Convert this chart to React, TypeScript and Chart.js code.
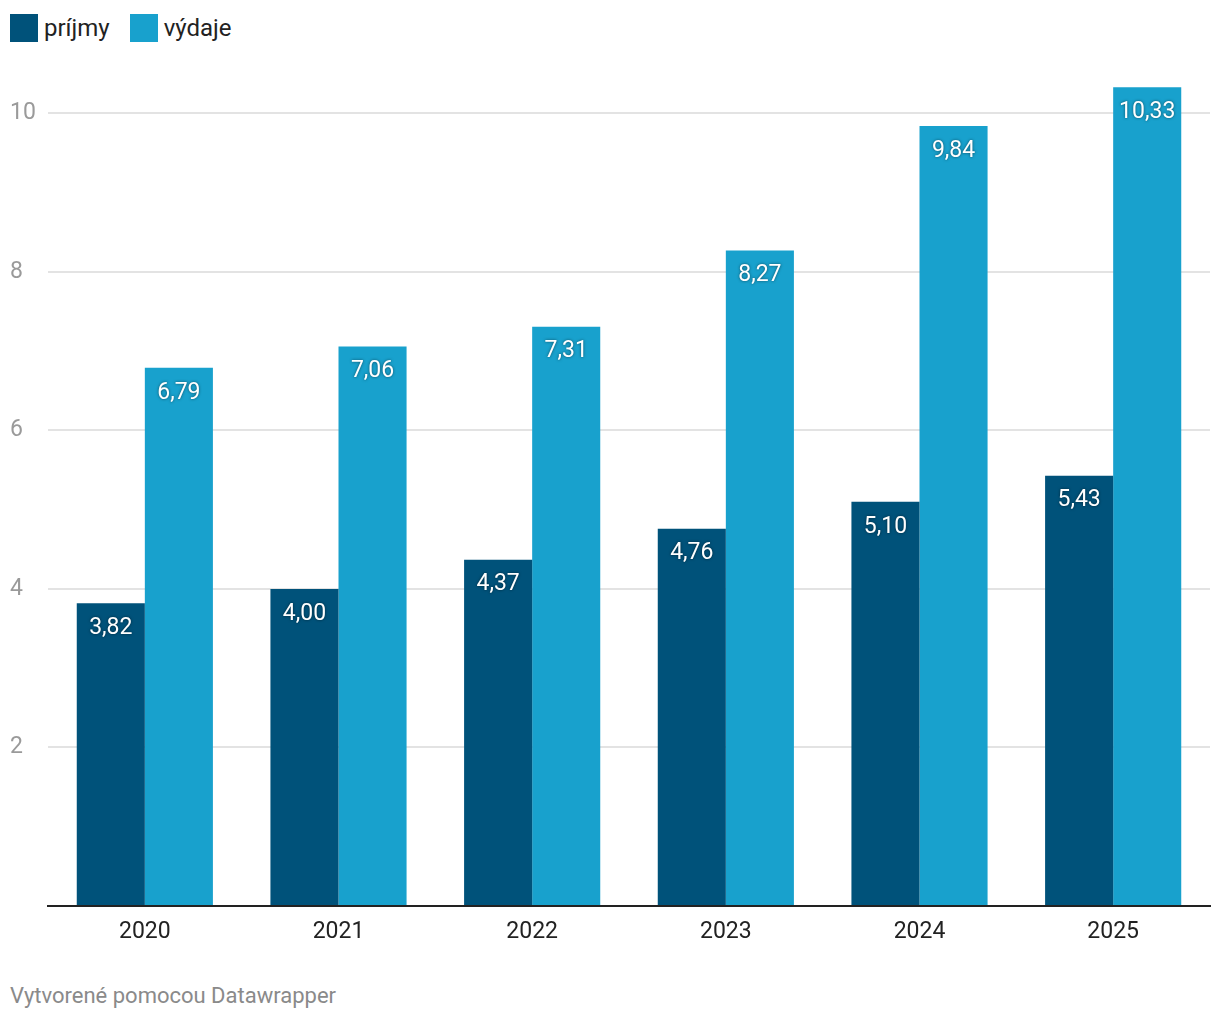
import React, { useEffect, useRef } from "react";
import { Chart, registerables } from "chart.js";

Chart.register(...registerables);

const categories = ["2020", "2021", "2022", "2023", "2024", "2025"];
const prijmy = [3.82, 4.0, 4.37, 4.76, 5.1, 5.43];
const vydaje = [6.79, 7.06, 7.31, 8.27, 9.84, 10.33];
const seriesNames = ["príjmy", "výdaje"];
const colors = ["#00527a", "#18a1cd"];
const footerText = "Vytvorené pomocou Datawrapper";

const FONT = "Roboto, 'Noto Sans', sans-serif";

const valueLabels = {
  id: "valueLabels",
  afterDatasetsDraw(chart: any) {
    const ctx = chart.ctx;
    ctx.save();
    ctx.font = `23px ${FONT}`;
    ctx.textAlign = "center";
    ctx.textBaseline = "middle";
    chart.data.datasets.forEach((ds: any, i: number) => {
      const meta = chart.getDatasetMeta(i);
      meta.data.forEach((bar: any, j: number) => {
        const v = ds.data[j] as number;
        const txt = v.toFixed(2).replace(".", ",");
        ctx.shadowColor = "rgba(0,0,0,0.55)";
        ctx.shadowBlur = 3;
        ctx.fillStyle = "#ffffff";
        ctx.fillText(txt, bar.x, bar.y + 25);
      });
    });
    ctx.restore();
  },
};

export default function App() {
  const ref = useRef<HTMLCanvasElement>(null);
  useEffect(() => {
    document.body.style.margin = "0";
    const chart = new Chart(ref.current!, {
      type: "bar",
      data: {
        labels: categories,
        datasets: [
          { label: seriesNames[0], data: prijmy, backgroundColor: colors[0] },
          { label: seriesNames[1], data: vydaje, backgroundColor: colors[1] },
        ],
      },
      options: {
        animation: false,
        responsive: false,
        devicePixelRatio: 1,
        layout: { padding: { top: 8, right: 10, left: 10, bottom: 0 } },
        datasets: { bar: { categoryPercentage: 0.703, barPercentage: 1 } },
        plugins: { legend: { display: false }, tooltip: { enabled: false } },
        scales: {
          x: {
            grid: { display: false, drawTicks: false },
            border: { display: true, color: "#222", width: 2 },
            ticks: { color: "#222", font: { family: FONT, size: 23 }, padding: 12 },
            afterFit: (s: any) => { s.height = 54; },
          },
          y: {
            min: 0,
            max: 10.5,
            grid: {
              drawTicks: false,
              color: (c: any) =>
                c.tick && c.tick.value === 0 ? "#222" : c.tick && c.tick.value > 10 ? "rgba(0,0,0,0)" : "#e3e3e3",
              lineWidth: 2,
            },
            border: { display: false },
            ticks: {
              stepSize: 2,
              color: "#9a9a9a",
              font: { family: FONT, size: 23 },
              crossAlign: "far",
              padding: 0,
              callback: (v: any) => (v === 0 || v > 10 ? "" : String(v)),
            },
            afterFit: (s: any) => { s.width = 38; },
          },
        },
      },
      plugins: [valueLabels],
    });
    return () => chart.destroy();
  }, []);

  return (
    <div style={{ position: "relative", width: 1220, height: 1020, fontFamily: FONT, background: "#fff" }}>
      <div style={{ position: "absolute", left: 10, top: 14, display: "flex", alignItems: "center", fontSize: 24, color: "#222" }}>
        {seriesNames.map((n, i) => (
          <div key={n} style={{ display: "flex", alignItems: "center", marginRight: 20 }}>
            <span style={{ display: "inline-block", width: 28, height: 28, background: colors[i], marginRight: 6 }} />
            <span>{n}</span>
          </div>
        ))}
      </div>
      <canvas ref={ref} width={1220} height={900} style={{ position: "absolute", left: 0, top: 60 }} />
      <div style={{ position: "absolute", left: 10, top: 983, fontSize: 22, color: "#8a8a8a" }}>{footerText}</div>
    </div>
  );
}
